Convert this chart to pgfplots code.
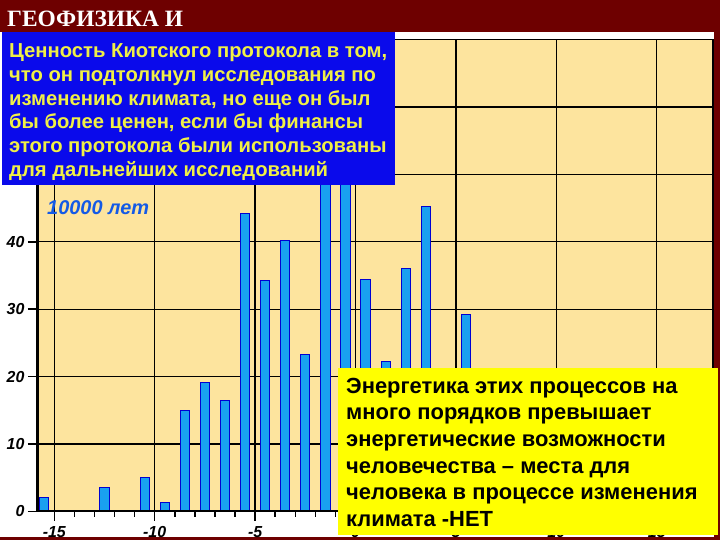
\documentclass[border=0pt]{standalone}
\usepackage{fontspec}
\setmainfont{Liberation Sans}
\newfontfamily\titlefont{Liberation Serif}
\usepackage{pgfplots}
\pgfplotsset{compat=1.18}
\definecolor{maroon}{RGB}{110,0,0}
\definecolor{plotbg}{RGB}{253,228,158}
\definecolor{barfill}{RGB}{25,160,240}
\definecolor{bardraw}{RGB}{0,0,210}
\definecolor{boxblue}{RGB}{10,10,235}
\definecolor{boxtext}{RGB}{240,240,70}
\definecolor{boxyellow}{RGB}{255,255,0}
\definecolor{labelblue}{RGB}{20,90,230}
\begin{document}
\begin{tikzpicture}
\path[use as bounding box] (0,0) rectangle (720bp,540bp);
\fill[white] (0,0) rectangle (720bp,540bp);
\fill[maroon] (0,508bp) rectangle (720bp,540bp);
\fill[maroon] (714bp,0) rectangle (720bp,540bp);
\fill[maroon] (0,0) rectangle (720bp,3bp);
\begin{axis}[
  at={(37bp,28.5bp)}, anchor=south west, scale only axis,
  width=676bp, height=472bp,
  xmin=-15.86, xmax=17.8, ymin=0, ymax=70,
  axis background/.style={fill=plotbg},
  xtick={-15,-10,-5,0,5,10,15},
  xticklabels={-15,-10,-5,0,5,10,15},
  minor x tick num=4,
  ytick={0,10,20,30,40,50,60},
  yticklabels={0,10,20,30,40,50,60},
  xtick pos=left, ytick pos=left,
  tick align=outside,
  major tick length=9bp, minor tick length=5bp,
  tick style={black, line width=1.5bp},
  xmajorgrids, ymajorgrids,
  major grid style={black, line width=1.3bp},
  axis line style={black, line width=1.5bp},
  ticklabel style={font=\fontsize{16}{16}\selectfont\bfseries\itshape},
  x tick label style={text height=11.5bp, text depth=0bp, anchor=north, yshift=-2bp},
  ybar, bar width=0.46,
]
\addplot[fill=barfill, draw=bardraw, line width=1bp] coordinates {
(-15.5,2.1) (-12.5,3.5) (-10.5,5.0) (-9.5,1.3) (-8.5,15.0) (-7.5,19.2)
(-6.5,16.4) (-5.5,44.2) (-4.5,34.3) (-3.5,40.2) (-2.5,23.3) (-1.5,62)
(-0.5,58) (0.5,34.4) (1.5,22.2) (2.5,36.1) (3.5,45.2) (5.5,29.2)
};
\draw[black, line width=3.5bp] (rel axis cs:0,0) -- (rel axis cs:0,1);
\draw[black, line width=3.5bp] (rel axis cs:0,0) -- (rel axis cs:1,0);
\draw[black, line width=3bp] (rel axis cs:1,0) -- (rel axis cs:1,1);
\end{axis}
% title
\node[anchor=base west, inner sep=0, text=white, font=\titlefont\fontsize{23.5}{23.5}\selectfont\bfseries] at (7bp,513.3bp) {ГЕОФИЗИКА И};
% blue box
\fill[boxblue] (2bp,355bp) rectangle (395bp,508bp);
\begin{scope}[every node/.style={anchor=base west, inner sep=0, text=boxtext, font=\fontsize{20.3}{20.3}\selectfont\bfseries}]
\node at (9bp,482.7bp) {Ценность Киотского протокола в том,};
\node at (9bp,458.8bp) {что он подтолкнул исследования по};
\node at (9bp,434.9bp) {изменению климата, но еще он был};
\node at (9bp,411.0bp) {бы более ценен, если бы финансы};
\node at (9bp,387.1bp) {этого протокола были использованы};
\node at (9bp,363.2bp) {для дальнейших исследований};
\end{scope}
\node[anchor=base west, inner sep=0, text=labelblue, font=\fontsize{20}{20}\selectfont\bfseries\itshape] at (47bp,325bp) {10000 лет};
% yellow box
\fill[boxyellow] (338bp,5bp) rectangle (718bp,172bp);
\begin{scope}[every node/.style={anchor=base west, inner sep=0, text=black, font=\fontsize{22}{22}\selectfont\bfseries}]
\node at (346bp,146.7bp) {Энергетика этих процессов на};
\node at (346bp,120.0bp) {много порядков превышает};
\node at (346bp,93.3bp) {энергетические возможности};
\node at (346bp,66.7bp) {человечества – места для};
\node at (346bp,40.0bp) {человека в процессе изменения};
\node at (346bp,13.3bp) {климата -НЕТ};
\end{scope}
\end{tikzpicture}
\end{document}
